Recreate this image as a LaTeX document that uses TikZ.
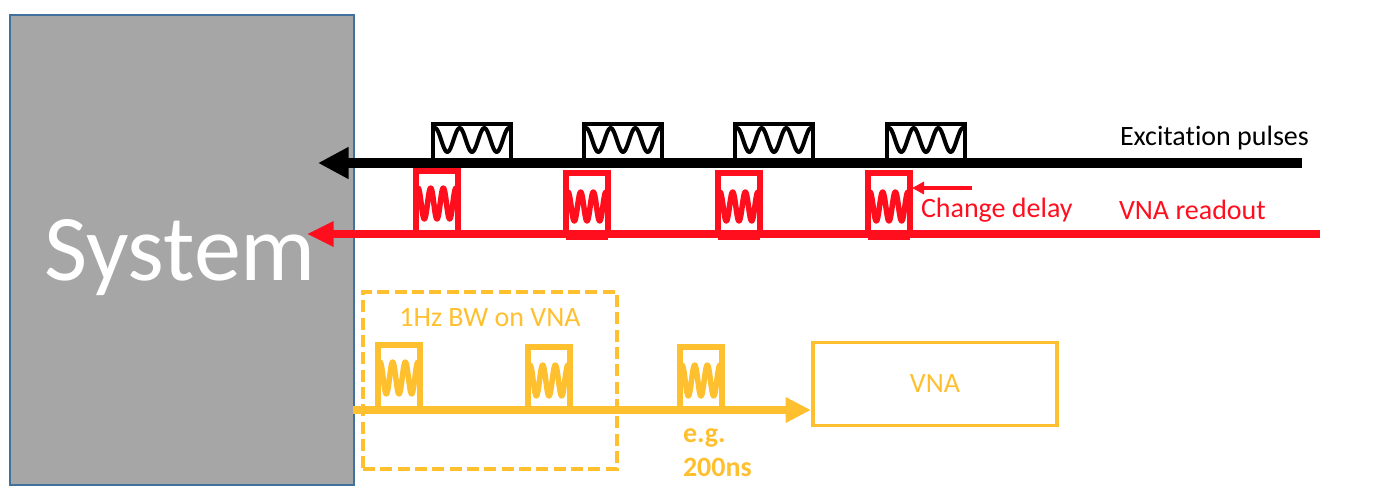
\documentclass[tikz,border=0pt]{standalone}
\usepackage{fontspec}
\setmainfont{Carlito}[Ligatures=NoCommon]
\usetikzlibrary{arrows.meta}
\definecolor{sysgray}{HTML}{A6A6A6}
\definecolor{sysblue}{HTML}{41719C}
\definecolor{pulsered}{HTML}{FF0F1E}
\definecolor{pulseyel}{HTML}{FFC02F}
% px: 1 unit = 0.75pt, y downward
\newcommand{\pulsebox}[8]{% x-left, x-right, top, bottom, colour, box lw(pt), wave lw(pt), wave top/bottom given as #8={ytop/ybot}
  \draw[#5,line width=#6pt] (#1,#4) -- (#1,#3) -- (#2,#3) -- (#2,#4);
  \foreach \wt/\wb in {#8}{
    \draw[#5,line width=#7pt,line join=round,line cap=round]
      plot[domain=0:3,samples=73,smooth] ({#1+2+(#2-#1-4)*\x/3},{(\wt+\wb)/2-(\wb-\wt)/2*cos(360*\x)});
  }
}
\tikzset{
  every node/.style={inner sep=0pt,outer sep=0pt},
  lbl/.style={font=\fontsize{21pt}{25pt}\selectfont,anchor=base west},
  vnabox/.style={draw=pulseyel,line width=2.7pt,minimum width=183pt,minimum height=62.5pt,text=pulseyel,font=\fontsize{21pt}{25pt}\selectfont},
  sysbox/.style={draw=sysblue,fill=sysgray,line width=0.9pt,minimum width=258pt,minimum height=352.5pt},
  windowbox/.style={draw=pulseyel,line width=3pt,dash pattern=on 9pt off 4pt,minimum width=190.5pt,minimum height=132.75pt},
}
\begin{document}
\begin{tikzpicture}[x=0.75pt,y=-0.75pt]
\useasboundingbox (0,0) rectangle (1390,500);
\node[sysbox] (sys) at (182,250) {};
\node[windowbox] (win) at (490,380.5) {};
\node[vnabox] (vna) at (935,384) {VNA};
\node[anchor=base,text=white,font=\fontsize{70.5pt}{74pt}\selectfont] (systext) at (180,280) {System};
% black row
\foreach \xa in {433,584,735,887}{
  \pulsebox{\xa}{\xa+78}{124}{162}{black}{3}{3}{128/152}
}
\coordinate (bS) at (1302,163);
\coordinate (bE) at (318,163);
\draw[black,line width=7.5pt,-{Triangle[length=23pt,width=22.5pt]}] (bS) -- (bE);
\node[lbl,text=black] (exc) at (1120,145) {Excitation pulses};
% red row
\coordinate (rS) at (1320,234);
\coordinate (rE) at (307,234);
\draw[pulsered,line width=6pt,-{Triangle[length=20pt,width=18pt]}] (rS) -- (rE);
\pulsebox{416}{458}{171}{234}{pulsered}{4.5}{4.1}{188/219}
\pulsebox{566}{608}{173}{237}{pulsered}{4.5}{4.1}{192/221}
\pulsebox{718}{760}{173}{237}{pulsered}{4.5}{4.1}{192/221}
\pulsebox{868}{910}{173}{237}{pulsered}{4.5}{4.1}{192/221}
\draw[pulsered,line width=4.5pt] (566,237) -- (608,237) (718,237) -- (760,237) (868,237) -- (910,237);
\coordinate (dS) at (972,188);
\coordinate (dE) at (912,188);
\draw[pulsered,line width=2.4pt,-{Triangle[length=9pt,width=9pt]}] (dS) -- (dE);
\node[lbl,text=pulsered] (chg) at (921,217) {Change delay};
\node[lbl,text=pulsered] (vnar) at (1119,219) {VNA readout};
% yellow row
\coordinate (yS) at (353,410);
\draw[pulseyel,line width=6pt,-{Triangle[length=19pt,width=18pt]},shorten >=1.5pt] (yS) -- (yS -| vna.west);
\pulsebox{378}{420}{345}{410}{pulseyel}{4.5}{4.1}{362/394}
\pulsebox{528}{570}{347}{410}{pulseyel}{4.5}{4.1}{365/396}
\pulsebox{680}{722}{347}{410}{pulseyel}{4.5}{4.1}{365/396}
\node[anchor=base,text=pulseyel,font=\fontsize{21pt}{25pt}\selectfont] (bw) at (490,326) {1Hz BW on VNA};
\node[anchor=base west,text=pulseyel,font=\fontsize{21pt}{25pt}\bfseries\selectfont] (eg1) at (683,442) {e.g.};
\node[anchor=base west,text=pulseyel,font=\fontsize{21pt}{25pt}\bfseries\selectfont] (eg2) at (683,476) {200ns};
\end{tikzpicture}
\end{document}
